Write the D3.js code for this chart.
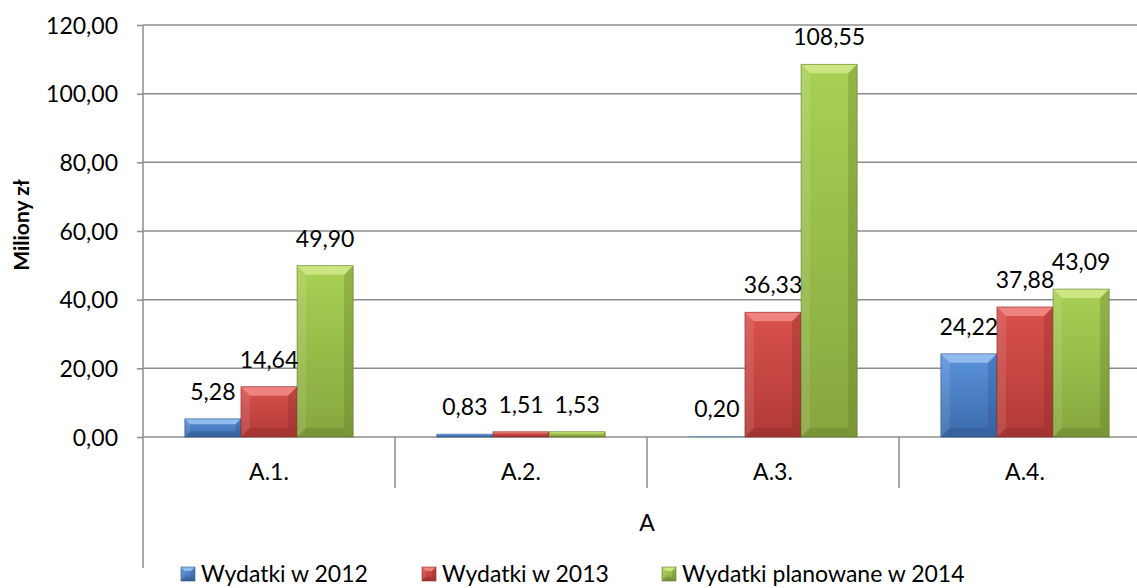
<!DOCTYPE html>
<html>
<head>
<meta charset="utf-8">
<script src="https://cdn.jsdelivr.net/npm/d3@7/dist/d3.min.js"></script>
<style>
    body { margin: 0; background: #fff; }
    svg { display: block; font-family: Lato, "Open Sans", sans-serif; }
</style>
</head>
<body>
<div class="chart"></div>
<script>
// data
let categories = ["A.1.", "A.2.", "A.3.", "A.4."];
let groupLabel = "A";
let seriesNames = ["Wydatki w 2012", "Wydatki w 2013", "Wydatki planowane w 2014"];
let spend2012 = [5.28, 0.83, 0.20, 24.22];
let spend2013 = [14.64, 1.51, 36.33, 37.88];
let plan2014 = [49.90, 1.53, 108.55, 43.09];
let yTicks = [0, 20, 40, 60, 80, 100, 120];

// office-ish bevel colours: [body top, body bottom, top bevel, dark edge]
let palette = [
    ["#5b93dc", "#3b6bab", "#9cc4f2", "#2c5184"],
    ["#d9514d", "#b23a37", "#f38c89", "#862826"],
    ["#a9d055", "#87a63e", "#d2ea8a", "#5e7527"]
];

const W = 1137, H = 588;
const plotLeft = 143, plotRight = 1151, plotTop = 25, zeroY = 437;

let svg = d3.select('.chart').append('svg').attr('width', W).attr('height', H);
let defs = svg.append('defs');

let fmt = d3.formatLocale({decimal: ",", thousands: " ", grouping: [3], currency: ["", " zł"]}).format(".2f");

let y = d3.scaleLinear().domain([0, 120]).range([zeroY, plotTop]);
let x = d3.scaleBand().domain(categories).range([plotLeft, plotRight]).paddingInner(0).paddingOuter(0);
let gap = x.bandwidth() * 0.166;
let xs = d3.scaleBand().domain(d3.range(3)).range([gap, x.bandwidth() - gap]);

let table = categories.map((c, i) => ({cat: c, vals: [spend2012[i], spend2013[i], plan2014[i]]}));

// gradients
palette.forEach((p, i) => {
    let g = defs.append('linearGradient').attr('id', 'body' + i)
        .attr('x1', 0).attr('y1', 0).attr('x2', 0).attr('y2', 1);
    g.append('stop').attr('offset', '0%').attr('stop-color', p[0]);
    g.append('stop').attr('offset', '100%').attr('stop-color', p[1]);
});

// gridlines
svg.append('g').selectAll('line').data(yTicks.slice(1)).enter().append('line')
    .attr('x1', plotLeft).attr('x2', W).attr('y1', d => y(d)).attr('y2', d => y(d))
    .attr('stroke', '#8c8c8c').attr('stroke-width', 1.5);

// y axis
let yAxis = svg.append('g').attr('transform', 'translate(' + plotLeft + ',0)')
    .call(d3.axisLeft(y).tickValues(yTicks).tickSize(6).tickPadding(19).tickFormat(fmt));
yAxis.select('.domain').remove();
yAxis.selectAll('.tick line').attr('stroke', '#8c8c8c').attr('stroke-width', 1.5);
yAxis.selectAll('.tick text').attr('font-size', 23).attr('fill', '#000').attr('dy', '0.36em')
    .attr('font-family', 'Lato, sans-serif');

svg.append('line').attr('x1', plotLeft).attr('x2', plotLeft).attr('y1', plotTop).attr('y2', 568)
    .attr('stroke', '#8c8c8c').attr('stroke-width', 1.5);

// category axis
svg.append('line').attr('x1', plotLeft).attr('x2', W).attr('y1', zeroY).attr('y2', zeroY)
    .attr('stroke', '#8c8c8c').attr('stroke-width', 1.5);
svg.append('g').selectAll('line').data(categories.slice(1)).enter().append('line')
    .attr('x1', d => x(d)).attr('x2', d => x(d)).attr('y1', zeroY).attr('y2', 488)
    .attr('stroke', '#8c8c8c').attr('stroke-width', 1.5);
svg.append('line').attr('x1', plotRight).attr('x2', plotRight).attr('y1', zeroY).attr('y2', 568)
    .attr('stroke', '#8c8c8c').attr('stroke-width', 1.5);
svg.append('g').selectAll('text').data(categories).enter().append('text')
    .attr('x', d => x(d) + x.bandwidth() / 2).attr('y', 480)
    .attr('text-anchor', 'middle').attr('font-size', 23).text(d => d);
svg.append('text').attr('x', (plotLeft + plotRight) / 2).attr('y', 531)
    .attr('text-anchor', 'middle').attr('font-size', 23).text(groupLabel);

// axis title
svg.append('text').attr('transform', 'translate(29,225) rotate(-90)')
    .attr('text-anchor', 'middle').attr('font-size', 21).attr('font-weight', 'bold')
    .text('Miliony zł');

// bevelled bar
function bevelBar(g, bx, by, bw, bh, i, b) {
    let p = palette[i];
    g.append('rect').attr('x', bx).attr('y', by).attr('width', bw).attr('height', bh)
        .attr('fill', 'url(#body' + i + ')');
    if (bh < 1) return;
    let pts = (arr) => arr.map(q => q.join(',')).join(' ');
    // top
    g.append('polygon').attr('points', pts([[bx, by], [bx + bw, by], [bx + bw - b, by + b], [bx + b, by + b]]))
        .attr('fill', p[2]).attr('opacity', 0.85);
    // left
    g.append('polygon').attr('points', pts([[bx, by], [bx + b, by + b], [bx + b, by + bh - b], [bx, by + bh]]))
        .attr('fill', '#fff').attr('opacity', 0.1);
    // right
    g.append('polygon').attr('points', pts([[bx + bw, by], [bx + bw - b, by + b], [bx + bw - b, by + bh - b], [bx + bw, by + bh]]))
        .attr('fill', p[3]).attr('opacity', 0.3);
    // bottom
    g.append('polygon').attr('points', pts([[bx, by + bh], [bx + b, by + bh - b], [bx + bw - b, by + bh - b], [bx + bw, by + bh]]))
        .attr('fill', p[3]).attr('opacity', 0.35);
    g.append('rect').attr('x', bx).attr('y', by).attr('width', bw).attr('height', bh)
        .attr('fill', 'none').attr('stroke', p[3]).attr('stroke-width', 0.8).attr('stroke-opacity', 0.7);
}

// bars
let bars = svg.append('g');
table.forEach(row => {
    row.vals.forEach((v, i) => {
        let bx = x(row.cat) + xs(i);
        let by = y(v);
        let bh = zeroY - by;
        let b = Math.min(9, bh * 0.3);
        bevelBar(bars, bx, by, xs.bandwidth(), bh, i, b);
    });
});

// value labels
let labels = svg.append('g');
table.forEach(row => {
    row.vals.forEach((v, i) => {
        labels.append('text')
            .attr('x', x(row.cat) + xs(i) + xs.bandwidth() / 2)
            .attr('y', y(v) - 19)
            .attr('text-anchor', 'middle').attr('font-size', 23)
            .text(fmt(v));
    });
});

// legend
let legendX = [181, 422, 662];
let legend = svg.append('g');
seriesNames.forEach((s, i) => {
    let lg = legend.append('g');
    bevelBar(lg, legendX[i], 567, 14, 14, i, 4);
    lg.append('text').attr('x', legendX[i] + 20).attr('y', 582)
        .attr('font-size', 23).text(s);
});
</script>
</body>
</html>
